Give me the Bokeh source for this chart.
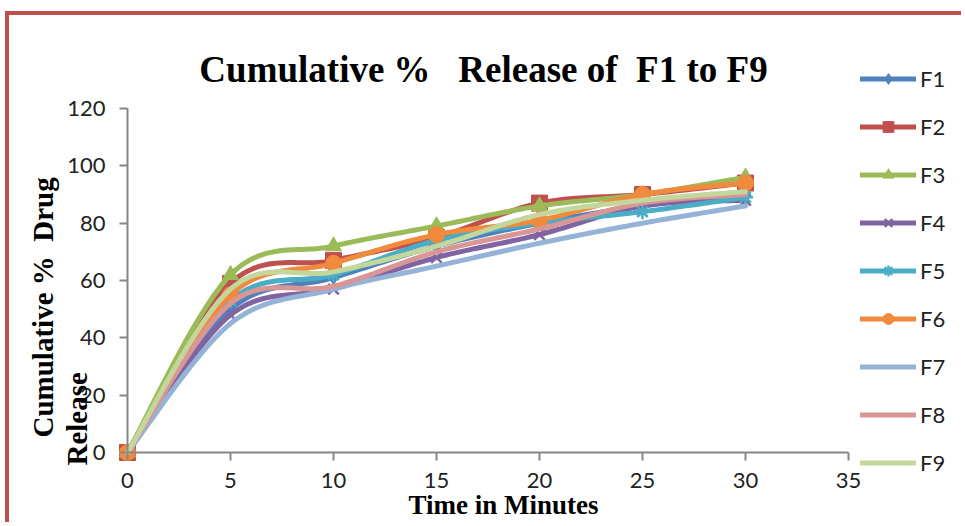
import numpy as np
from bokeh.plotting import figure
from bokeh.models import Label, Legend, LegendItem, FixedTicker
from bokeh.embed import file_html
from bokeh.resources import INLINE

# ---- data ----
time_min = [0, 5, 10, 15, 20, 25, 30]
F1 = [0, 50, 61, 72, 80, 86, 90]
F2 = [0, 59, 67, 75, 87, 90, 94]
F3 = [0, 62, 72, 79, 86, 90, 96]
F4 = [0, 48, 57, 68, 76, 86, 88]
F5 = [0, 53, 62, 74, 80, 84, 89]
F6 = [0, 55, 66, 76, 81, 90, 94]
F7 = [0, 45, 57, 65, 73, 80, 86]
F8 = [0, 52, 58, 70, 78, 87, 90]
F9 = [0, 57, 63, 72, 83, 88, 91]
series_names = ["F1", "F2", "F3", "F4", "F5", "F6", "F7", "F8", "F9"]
x_ticks = [0, 5, 10, 15, 20, 25, 30, 35]
y_ticks = [0, 20, 40, 60, 80, 100, 120]

series = [F1, F2, F3, F4, F5, F6, F7, F8, F9]
colors = ["#4F81BD", "#C0504D", "#9BBB59", "#8064A2", "#4BACC6",
          "#F08A3C", "#95B3D7", "#D99694", "#C3D69B"]
markers = ["diamond", "square", "triangle", "x", "asterisk", "circle", "dash_v", None, None]

# page offset of the canvas (red frame drawn by the host element's border)
OX, OY = 9, 15
W, H = 965 - OX, 526 - OY
# page pixels of the chart's value 0 / max on each axis
PX0, PX35, PY0, PY120 = 127, 848, 452, 108
XMAX, YMAX = 35, 120
kx = (PX35 - PX0) / XMAX
ky = (PY0 - PY120) / YMAX

def dx(px):
    return (px - PX0) / kx

def dy(py):
    return (PY0 - py) / ky

def smooth(xs, ys, n=24):
    pts = np.column_stack([xs, ys]).astype(float)
    m = len(pts)
    outx, outy = [pts[0, 0]], [pts[0, 1]]
    t = np.linspace(0, 1, n)[1:]
    for i in range(m - 1):
        p0 = pts[i - 1] if i > 0 else pts[i]
        p1, p2 = pts[i], pts[i + 1]
        p3 = pts[i + 2] if i + 2 < m else pts[i + 1]
        c1 = p1 + (p2 - p0) / 6.0
        c2 = p2 - (p3 - p1) / 6.0
        b = ((1 - t) ** 3)[:, None] * p1 + (3 * (1 - t) ** 2 * t)[:, None] * c1 \
            + (3 * (1 - t) * t ** 2)[:, None] * c2 + (t ** 3)[:, None] * p2
        outx.extend(b[:, 0]); outy.extend(b[:, 1])
    return outx, outy

p = figure(width=W, height=H,
           x_range=(dx(OX), dx(965)), y_range=(dy(526), dy(OY)),
           output_backend="svg", toolbar_location=None,
           min_border=0, min_border_left=0, min_border_right=0,
           min_border_top=0, min_border_bottom=0)
p.styles = {"margin-left": "5px", "margin-top": "11px",
            "border-left": "4px solid #C0504D", "border-top": "4px solid #C0504D"}
p.outline_line_color = None
p.grid.visible = False
p.background_fill_color = "white"
p.border_fill_color = "white"

for ax, ticks, bnd in ((p.xaxis, x_ticks, (0, XMAX)), (p.yaxis, y_ticks, (0, YMAX))):
    ax.ticker = FixedTicker(ticks=ticks)
    ax.bounds = bnd
    ax.fixed_location = 0
    ax.axis_line_color = "#868686"
    ax.axis_line_width = 2
    ax.major_tick_line_color = "#868686"
    ax.major_tick_line_width = 2
    ax.major_tick_out = 8
    ax.major_tick_in = 0
    ax.minor_tick_line_color = None
    ax.major_label_text_font = "Lato"
    ax.major_label_text_font_size = "22px"
    ax.major_label_text_color = "#222222"
p.yaxis.major_label_standoff = 14
p.xaxis.major_label_standoff = 12

items = []
for name, ys, col, mk in zip(series_names, series, colors, markers):
    sx, sy = smooth(time_min, ys)
    ln = p.line(sx, sy, line_color=col, line_width=5, line_cap="round", line_join="round")
    rs = [ln]
    if mk is not None:
        if mk in ("x", "asterisk", "dash_v"):
            sc = p.scatter(time_min, ys, marker=mk, size=15, line_color=col, line_width=2.5,
                           fill_color=col)
        else:
            sc = p.scatter(time_min, ys, marker=mk, size=16 if mk != "diamond" else 14,
                           line_color=col, fill_color=col, line_width=1)
        rs.append(sc)
    items.append(LegendItem(label=name, renderers=rs))

legend = Legend(items=items, location=(851, 50), orientation="vertical",
                glyph_width=56, glyph_height=27, label_height=27, spacing=21,
                padding=0, margin=0, label_standoff=4,
                label_text_font="Lato", label_text_font_size="22px",
                label_text_color="#222222",
                border_line_alpha=0, background_fill_alpha=0)
p.add_layout(legend)

serif = "Liberation Serif"
p.add_layout(Label(x=dx(483), y=dy(69), text="Cumulative %\u00a0\u00a0\u00a0Release of\u00a0\u00a0F1 to F9",
                   text_font=serif, text_font_style="bold", text_font_size="37px",
                   text_align="center", text_baseline="alphabetic", text_color="black"))
p.add_layout(Label(x=dx(42), y=dy(437), text="Cumulative %\u00a0\u00a0Drug", angle=np.pi / 2,
                   text_font=serif, text_font_style="bold", text_font_size="29px",
                   text_align="left", text_baseline="alphabetic", text_color="black"))
p.add_layout(Label(x=dx(76), y=dy(465), text="Release", angle=np.pi / 2,
                   text_font=serif, text_font_style="bold", text_font_size="29px",
                   text_align="left", text_baseline="alphabetic", text_color="black"))
p.add_layout(Label(x=dx(503), y=dy(504), text="Time in Minutes",
                   text_font=serif, text_font_style="bold", text_font_size="27px",
                   text_align="center", text_baseline="alphabetic", text_color="black"))

open("out.html", "w").write(file_html(p, INLINE))
